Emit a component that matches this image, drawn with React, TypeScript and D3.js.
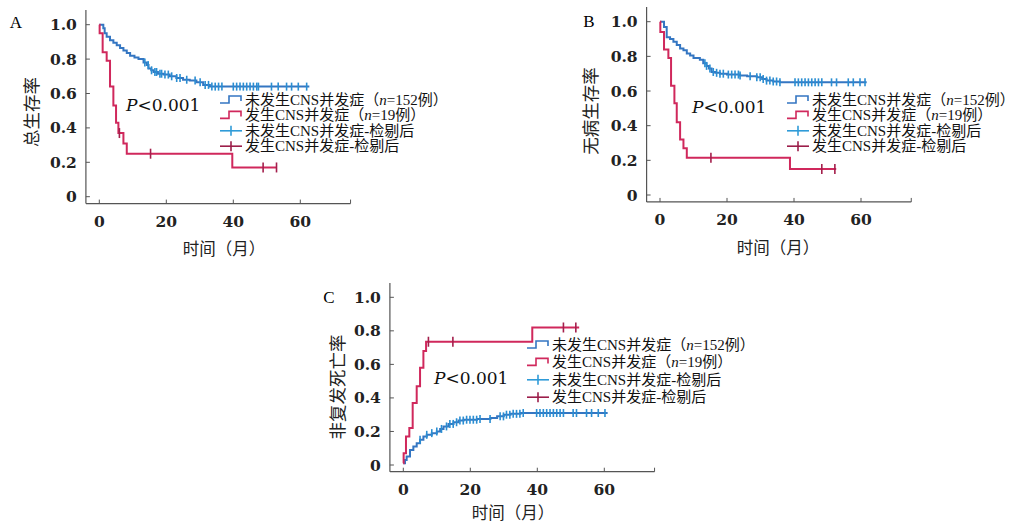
import React from 'react';
import * as d3 from 'd3';

const W = 1014;
const H = 525;

const xTicks = [0, 20, 40, 60];
const yTicks = [0, 0.2, 0.4, 0.6, 0.8, 1.0];
const yTickLabels = ['0', '0.2', '0.4', '0.6', '0.8', '1.0'];
const xAxisTitle = '时间（月）';
const legendMain = ['未发生CNS并发症', '发生CNS并发症'];
const legendN = ['152', '19'];
const legendCensor = ['未发生CNS并发症-检剔后', '发生CNS并发症-检剔后'];
const pText = '0.001';

// A: overall survival
const osNoTimes = [0, 1.2, 1.6, 2.2, 3.2, 4.2, 5.2, 6.2, 7.2, 8.2, 9.2, 10.5, 11.7, 13.2, 14.2, 14.7, 15.5, 16.2, 17.5, 19.2, 21, 23, 25, 27, 29, 31, 33];
const osNoValues = [1.0, 0.98, 0.95, 0.93, 0.91, 0.895, 0.88, 0.865, 0.85, 0.835, 0.82, 0.81, 0.8, 0.78, 0.765, 0.745, 0.735, 0.725, 0.715, 0.71, 0.7, 0.69, 0.68, 0.675, 0.665, 0.65, 0.64];
const osNoEnd = 62.7;
const osNoCensor = [13.6, 14.6, 15.6, 16.6, 17.1, 18.1, 18.6, 19.6, 20.6, 21.6, 23.1, 24.1, 26.1, 28.6, 30.1, 31.6, 32.6, 33.6, 34.6, 35.6, 36.6, 40, 41, 42, 43, 44, 45, 46, 47, 47.5, 51.4, 53.4, 55.9, 57.4, 59.4, 61.9];
const osCnsTimes = [0, 0.1, 1.0, 2.2, 3.2, 4.2, 5.0, 5.7, 7.2, 8.2, 39.7];
const osCnsValues = [1.0, 0.95, 0.84, 0.79, 0.64, 0.53, 0.43, 0.37, 0.31, 0.25, 0.17];
const osCnsEnd = 53;
const osCnsCensor = [6.0, 15.3, 48.9, 52.9];

// B: disease-free survival
const dfsNoTimes = [0, 1.2, 2.0, 3.0, 4.0, 5.0, 6.0, 7.0, 8.0, 9.0, 10, 11.9, 12.9, 13.9, 14.6, 15.4, 16.5, 17.9, 20, 23.9, 26, 28.9, 30.5, 31.8, 33.8, 35.8];
const dfsNoValues = [1.0, 0.97, 0.91, 0.9, 0.885, 0.865, 0.846, 0.835, 0.817, 0.805, 0.79, 0.78, 0.76, 0.745, 0.73, 0.71, 0.705, 0.7, 0.695, 0.69, 0.685, 0.68, 0.67, 0.66, 0.655, 0.65];
const dfsNoEnd = 61.7;
const dfsNoCensor = [13.4, 13.9, 14.9, 15.9, 16.9, 17.9, 18.9, 20.4, 21.4, 22.4, 23.4, 23.9, 26.9, 28.9, 29.9, 30.8, 31.8, 32.8, 33.8, 34.8, 35.8, 40.3, 41.3, 42.3, 43.3, 44.3, 45.3, 46.3, 47.3, 48.3, 51.2, 52.7, 56.2, 57.7, 59.7, 61.2];
const dfsCnsTimes = [0, 0.1, 1.2, 2.5, 3.3, 4.3, 5.0, 6.0, 7.0, 8.0, 38.8];
const dfsCnsValues = [1.0, 0.94, 0.84, 0.79, 0.63, 0.53, 0.42, 0.32, 0.27, 0.215, 0.15];
const dfsCnsEnd = 52.6;
const dfsCnsCensor = [15.2, 48.3, 52.2];

// C: non-relapse mortality
const nrmNoTimes = [0, 0.5, 1.0, 2.0, 3.0, 4.0, 5.0, 6.0, 7.0, 8.5, 10, 11, 12, 13.5, 15, 16.5, 18, 22, 26, 28, 30, 32, 35];
const nrmNoValues = [0.01, 0.03, 0.05, 0.09, 0.11, 0.13, 0.15, 0.17, 0.18, 0.19, 0.2, 0.215, 0.23, 0.245, 0.255, 0.265, 0.27, 0.275, 0.28, 0.29, 0.3, 0.305, 0.31];
const nrmNoEnd = 61;
const nrmNoCensor = [5, 7, 8.5, 10, 11.4, 12.9, 13.9, 14.9, 15.9, 16.9, 17.9, 18.9, 19.9, 20.9, 21.9, 22.9, 25.9, 28.9, 29.9, 30.8, 31.8, 32.8, 33.8, 34.8, 35.8, 39.8, 40.8, 41.8, 42.8, 43.8, 44.8, 45.8, 46.8, 47.8, 50.7, 51.7, 54.7, 56.2, 58.2, 60.2];
const nrmCnsTimes = [0, 0.1, 0.8, 1.8, 2.8, 4.0, 5.0, 6.0, 6.8, 38.5];
const nrmCnsValues = [0.01, 0.07, 0.17, 0.22, 0.37, 0.47, 0.58, 0.68, 0.735, 0.82];
const nrmCnsEnd = 52.5;
const nrmCnsCensor = [7.5, 14.8, 47.8, 51.5];

const BLUE = '#3476c2';
const BLUE_C = '#2a8ed2';
const RED = '#d0285c';
const RED_C = '#a41f4c';
const AXIS = '#555';
const LATIN = '"DejaVu Serif", "Noto Sans CJK SC", serif';
const MIXED = '"Liberation Serif", "Noto Sans CJK SC", serif';

type Curve = { times: number[]; values: number[]; end: number; censor: number[]; color: string; censorColor: string; tick: number };

const panels = [
  {
    letter: 'A', yTitle: '总生存率', ox: 99.3, oy: 196.7, h: 172,
    letterX: 16, letterY: 28, yTitleX: 32, yTitleY: 112, xTitleX: 224, xTitleY: 249,
    legX: 220, legY: 100, legGap: 15.4, pX: 126, pY: 111,
    curves: [
      { times: osNoTimes, values: osNoValues, end: osNoEnd, censor: osNoCensor, color: BLUE, censorColor: BLUE_C, tick: 4 },
      { times: osCnsTimes, values: osCnsValues, end: osCnsEnd, censor: osCnsCensor, color: RED, censorColor: RED_C, tick: 5 },
    ] as Curve[],
  },
  {
    letter: 'B', yTitle: '无病生存率', ox: 660, oy: 195, h: 173.3,
    letterX: 589, letterY: 27, yTitleX: 591, yTitleY: 111, xTitleX: 778, xTitleY: 248,
    legX: 787, legY: 100, legGap: 15.4, pX: 692, pY: 113,
    curves: [
      { times: dfsNoTimes, values: dfsNoValues, end: dfsNoEnd, censor: dfsNoCensor, color: BLUE, censorColor: BLUE_C, tick: 4 },
      { times: dfsCnsTimes, values: dfsCnsValues, end: dfsCnsEnd, censor: dfsCnsCensor, color: RED, censorColor: RED_C, tick: 5 },
    ] as Curve[],
  },
  {
    letter: 'C', yTitle: '非复发死亡率', ox: 403.3, oy: 465, h: 167.7,
    letterX: 329, letterY: 303, yTitleX: 338, yTitleY: 387, xTitleX: 513, xTitleY: 513,
    legX: 527, legY: 345, legGap: 17.4, pX: 434, pY: 384,
    curves: [
      { times: nrmNoTimes, values: nrmNoValues, end: nrmNoEnd, censor: nrmNoCensor, color: BLUE, censorColor: BLUE_C, tick: 4 },
      { times: nrmCnsTimes, values: nrmCnsValues, end: nrmCnsEnd, censor: nrmCnsCensor, color: RED, censorColor: RED_C, tick: 5 },
    ] as Curve[],
  },
];

const stepAt = (c: Curve, t: number) => {
  let v = c.values[0];
  c.times.forEach((tt, i) => { if (tt <= t) v = c.values[i]; });
  return v;
};

const Panel = ({ p }: { p: typeof panels[number] }) => {
  const x = d3.scaleLinear().domain([0, 75]).range([p.ox, p.ox + 75 * 3.35]);
  const y = d3.scaleLinear().domain([0, 1]).range([p.oy, p.oy - p.h]);
  const axisX = x(-4);
  const axisY = y(-0.04);
  const line = d3.line<[number, number]>().x(d => x(d[0])).y(d => y(d[1])).curve(d3.curveStepAfter);
  const legendColors = [[BLUE, '#2f9bd8'], [RED, '#9c1e4a']];

  return (
    <g>
      <text x={p.letterX} y={p.letterY} fontFamily={MIXED} fontSize={17} textAnchor="middle">{p.letter}</text>
      <text transform={`translate(${p.yTitleX},${p.yTitleY}) rotate(-90)`} fontFamily={MIXED} fontSize={17.5}
        textAnchor="middle" dominantBaseline="central" fill="#222">{p.yTitle}</text>
      <text x={p.xTitleX} y={p.xTitleY} fontFamily={MIXED} fontSize={16.5} textAnchor="middle" dominantBaseline="central" fill="#222">{xAxisTitle}</text>

      {/* axes */}
      <line x1={axisX} x2={axisX} y1={y(1.085)} y2={axisY} stroke={AXIS} strokeWidth={1.2} />
      <line x1={axisX} x2={x(75)} y1={axisY} y2={axisY} stroke={AXIS} strokeWidth={1.2} />
      {yTicks.map((t, i) => (
        <g key={'y' + t}>
          <line x1={axisX} x2={axisX + 4} y1={y(t)} y2={y(t)} stroke={AXIS} strokeWidth={1} />
          <text x={axisX - 9} y={y(t)} textAnchor="end" dominantBaseline="central" fontFamily={LATIN} fontWeight="bold" fontSize={15.5} fill="#222">{yTickLabels[i]}</text>
        </g>
      ))}
      {[...xTicks, 75].map(t => (
        <line key={'xt' + t} x1={x(t)} x2={x(t)} y1={axisY} y2={axisY - 4} stroke={AXIS} strokeWidth={1} />
      ))}
      {xTicks.map(t => (
        <text key={'xl' + t} x={x(t)} y={axisY + 23} textAnchor="middle" fontFamily={LATIN} fontWeight="bold" fontSize={15.5} fill="#222">{t}</text>
      ))}

      {/* curves */}
      {p.curves.map((c, ci) => {
        const pts: [number, number][] = c.times.map((t, i) => [t, c.values[i]] as [number, number]);
        pts.push([c.end, c.values[c.values.length - 1]]);
        return (
          <g key={'c' + ci}>
            <path d={line(pts) || ''} fill="none" stroke={c.color} strokeWidth={2} />
            {c.censor.map((t, k) => (
              <line key={k} x1={x(t)} x2={x(t)} y1={y(stepAt(c, t)) - c.tick} y2={y(stepAt(c, t)) + c.tick}
                stroke={c.censorColor} strokeWidth={1.6} />
            ))}
          </g>
        );
      })}

      <text x={p.pX} y={p.pY} fontFamily={LATIN} fontSize={17} fill="#111">
        <tspan fontStyle="italic">P</tspan>{'<'}{pText}
      </text>

      {/* legend */}
      {[0, 1].map(i => {
        const ly = p.legY + i * p.legGap;
        const lx = p.legX;
        return (
          <g key={'lm' + i}>
            <path d={`M${lx},${ly + 3} H${lx + 9} V${ly - 4} H${lx + 21} V${ly + 1}`} fill="none" stroke={legendColors[i][0]} strokeWidth={1.6} />
            <text x={lx + 25} y={ly} dominantBaseline="central" fontFamily={MIXED} fontSize={15} fill="#111">
              {legendMain[i]}（<tspan fontStyle="italic">n</tspan>={legendN[i]}例）
            </text>
          </g>
        );
      })}
      {[0, 1].map(i => {
        const ly = p.legY + (i + 2) * p.legGap;
        const lx = p.legX;
        return (
          <g key={'lc' + i}>
            <line x1={lx} x2={lx + 22} y1={ly} y2={ly} stroke={legendColors[i][1]} strokeWidth={1.6} />
            <line x1={lx + 11} x2={lx + 11} y1={ly - 5} y2={ly + 5} stroke={legendColors[i][1]} strokeWidth={1.6} />
            <text x={lx + 25} y={ly} dominantBaseline="central" fontFamily={MIXED} fontSize={15} fill="#111">{legendCensor[i]}</text>
          </g>
        );
      })}
    </g>
  );
};

export default function App() {
  return (
    <svg width={W} height={H} viewBox={`0 0 ${W} ${H}`} style={{ position: 'absolute', left: 0, top: 0, background: '#fff' }}>
      <rect width={W} height={H} fill="#fff" />
      {panels.map(p => <Panel key={p.letter} p={p} />)}
    </svg>
  );
}
